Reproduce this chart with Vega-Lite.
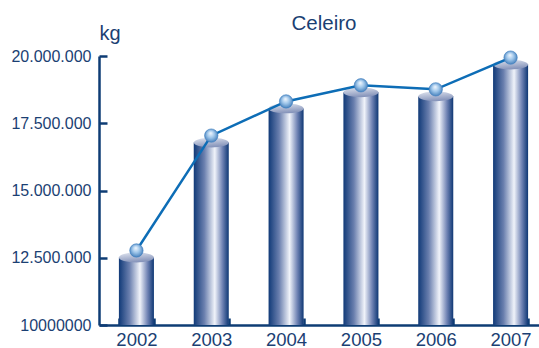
{
  "$schema": "https://vega.github.io/schema/vega-lite/v6.json",
  "autosize": {"type": "none"},
  "width": 440,
  "height": 269,
  "padding": {"left": 99, "top": 56, "right": 0, "bottom": 23},
  "background": "white",
  "config": {"view": {"stroke": null}},
  "title": {
    "text": "Celeiro",
    "fontSize": 20.5,
    "font": "Liberation Sans",
    "fontWeight": "normal",
    "color": "#1b3f73",
    "anchor": "middle",
    "frame": "group",
    "baseline": "alphabetic",
    "offset": 0,
    "dx": 5,
    "dy": 27
  },
  "data": {
    "values": [
      {"year": "2002", "kg": 12510000},
      {"year": "2003", "kg": 16780000},
      {"year": "2004", "kg": 18050000},
      {"year": "2005", "kg": 18650000},
      {"year": "2006", "kg": 18500000},
      {"year": "2007", "kg": 19680000}
    ]
  },
  "encoding": {
    "x": {
      "field": "year",
      "type": "ordinal",
      "scale": {"range": [0, 449], "paddingInner": 0.532, "paddingOuter": 0.266},
      "axis": {
        "title": null,
        "labelAngle": 0,
        "labelFont": "Liberation Sans",
        "labelFontSize": 18.5,
        "labelColor": "#1b3f73",
        "labelPadding": 12,
        "tickBand": "extent",
        "tickSize": -7,
        "tickWidth": 2.5,
        "tickColor": "#0e3c74",
        "domainColor": "#0e3c74",
        "domainWidth": 2.5
      }
    },
    "y": {
      "field": "kg",
      "type": "quantitative",
      "scale": {"domain": [10000000, 20000000], "nice": false, "zero": false},
      "axis": {
        "values": [10000000, 12500000, 15000000, 17500000, 20000000],
        "labelExpr": "datum.value == 10000000 ? '10000000' : datum.value == 12500000 ? '12.500.000' : datum.value == 15000000 ? '15.000.000' : datum.value == 17500000 ? '17.500.000' : '20.000.000'",
        "grid": false,
        "title": "kg",
        "titleAngle": 0,
        "titleAlign": "left",
        "titleBaseline": "alphabetic",
        "titleX": 0,
        "titleY": -17,
        "titleFont": "Liberation Sans",
        "titleFontSize": 20,
        "titleFontWeight": "normal",
        "titleColor": "#1b3f73",
        "labelFont": "Liberation Sans",
        "labelFontSize": 16,
        "labelColor": "#1b3f73",
        "labelPadding": 16,
        "tickSize": -8,
        "tickWidth": 2.5,
        "tickColor": "#0e3c74",
        "domainColor": "#0e3c74",
        "domainWidth": 2.5
      }
    }
  },
  "layer": [
    {
      "mark": {
        "type": "bar",
        "fill": {
          "gradient": "linear",
          "x1": 0, "y1": 0, "x2": 1, "y2": 0,
          "stops": [
            {"offset": 0, "color": "#113a78"},
            {"offset": 0.3, "color": "#6a7fae"},
            {"offset": 0.6, "color": "#f0f3fa"},
            {"offset": 0.82, "color": "#7083b4"},
            {"offset": 1, "color": "#0e3774"}
          ]
        }
      },
      "encoding": {"y2": {"datum": 10000000}}
    },
    {
      "mark": {
        "type": "point",
        "filled": true,
        "opacity": 1,
        "size": 1225,
        "shape": "M -1 0 C -1 -0.1546 -0.5523 -0.28 0 -0.28 C 0.5523 -0.28 1 -0.1546 1 0 C 1 0.1546 0.5523 0.28 0 0.28 C -0.5523 0.28 -1 0.1546 -1 0 Z",
        "fill": {
          "gradient": "linear",
          "x1": 0, "y1": 0, "x2": 0.3, "y2": 1,
          "stops": [
            {"offset": 0, "color": "#e2e6f0"},
            {"offset": 1, "color": "#8795bb"}
          ]
        }
      }
    },
    {
      "mark": {"type": "line", "color": "#0d6db6", "strokeWidth": 2.5, "yOffset": -7}
    },
    {
      "mark": {
        "type": "point",
        "filled": true,
        "opacity": 1,
        "size": 180,
        "shape": "circle",
        "yOffset": -7,
        "stroke": "#3a7cbf",
        "strokeWidth": 0.6,
        "fill": {
          "gradient": "radial",
          "x1": 0.45, "y1": 0.3, "r1": 0,
          "x2": 0.5, "y2": 0.5, "r2": 0.6,
          "stops": [
            {"offset": 0, "color": "#f4f9ff"},
            {"offset": 0.45, "color": "#9fc6ea"},
            {"offset": 1, "color": "#2f6fb0"}
          ]
        }
      }
    }
  ]
}
